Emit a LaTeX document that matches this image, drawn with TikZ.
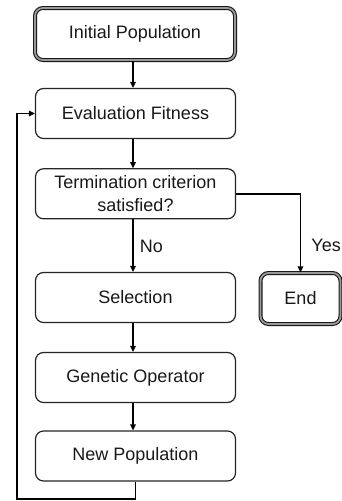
\documentclass[tikz,border=0pt]{standalone}
\usepackage{fontspec}
\setmainfont{Liberation Sans}
\usetikzlibrary{arrows.meta}
\begin{document}
\begin{tikzpicture}[x=1pt,y=-1pt,
  box/.style={draw=black!85, line width=1.2pt, fill=white, rounded corners=8pt,
    minimum width=200pt, minimum height=50pt, inner sep=0pt, align=center,
    font=\fontsize{18}{23}\selectfont, text=black!90},
  termbox/.style={box, draw=black!90, line width=1.1pt, double=black!40, double distance=1.8pt},
  arr/.style={draw=black, line width=1.8pt, -{Triangle[length=6pt,width=5.5pt]}},
  lbl/.style={font=\fontsize{18}{22}\selectfont, text=black!90, inner sep=0pt}]
\useasboundingbox[fill=white] (0,0) rectangle (342,501);
\node[termbox, minimum height=52pt] (init) at (135,34) {Initial Population};
\node[box] (eval) at (135.5,113.5) {Evaluation Fitness};
\node[box] (term) at (135.5,193.8) {Termination criterion\\satisfied?};
\node[box] (sel) at (135.5,297.5) {Selection};
\node[box] (gen) at (135.5,377.5) {Genetic Operator};
\node[box] (newp) at (135.5,456) {New Population};
\node[termbox, minimum width=80pt, minimum height=51pt] (end) at (300.5,298.5) {End};
\coordinate (ax) at (133,0);
\coordinate (loopbl) at (17,499);
\draw[arr] (init.south -| ax) -- (eval.north -| ax);
\draw[arr] (eval.south -| ax) -- (term.north -| ax);
\draw[arr] (term.south -| ax) -- (sel.north -| ax) node[lbl, pos=0.52, anchor=west, xshift=6pt] (no) {No};
\draw[arr] (sel.south -| ax) -- (gen.north -| ax);
\draw[arr] (gen.south -| ax) -- (newp.north -| ax);
\draw[arr] (term.east) -| (end.north) node[lbl, pos=0.83, anchor=west, xshift=10pt] (yes) {Yes};
\draw[arr, rounded corners=0pt] (newp.south) |- (loopbl) |- (eval.west);
\end{tikzpicture}
\end{document}
